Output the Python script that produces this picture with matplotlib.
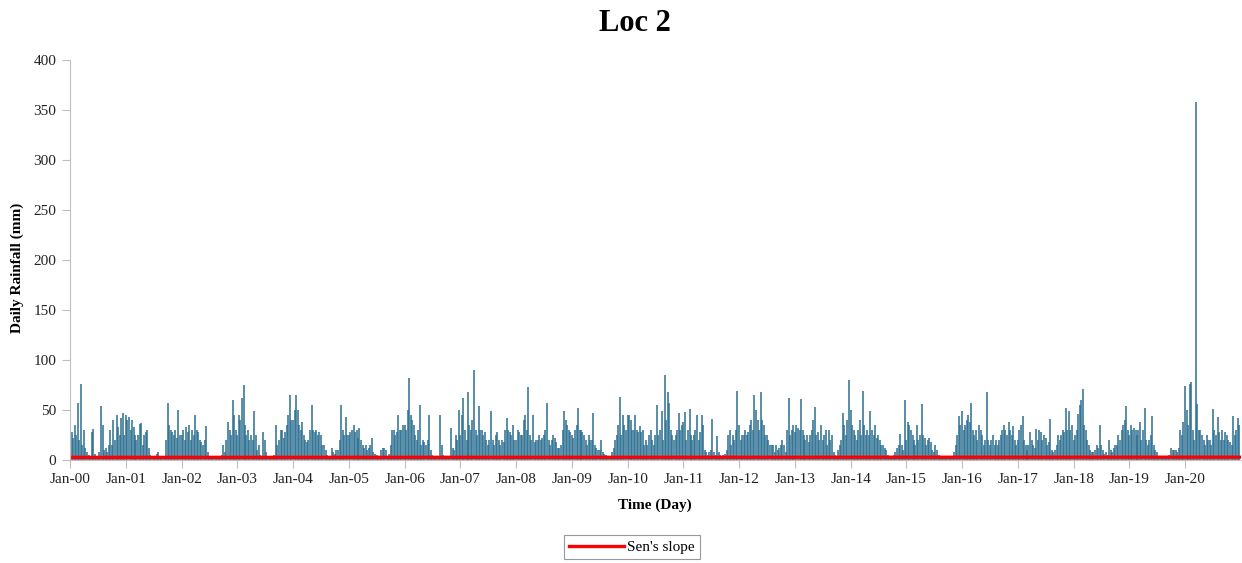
import datetime as dt
import numpy as np
import matplotlib
matplotlib.use("Agg")
import matplotlib.pyplot as plt
import matplotlib.dates as mdates

plt.rcParams['font.family'] = ['Liberation Serif', 'DejaVu Serif']

# rainfall (mm), one value per dekad (1st, 11th, 21st of each month)
rain_2000 = [30, 28, 22, 35, 25, 57, 20, 76, 15, 30, 12, 8,
             5, 3, 28, 31, 6, 4, 3, 8, 54, 35, 10, 12,
             8, 15, 30, 15, 40, 20, 45, 33, 25, 42, 47, 25]
rain_2001 = [45, 40, 43, 30, 40, 33, 25, 20, 25, 36, 37, 15,
             25, 28, 30, 12, 5, 3, 4, 2, 6, 8, 3, 2,
             3, 4, 20, 57, 35, 30, 28, 25, 30, 22, 50, 25]
rain_2002 = [25, 30, 20, 33, 28, 35, 20, 30, 25, 45, 30, 28,
             20, 18, 15, 20, 34, 8, 3, 2, 4, 3, 2, 1,
             2, 3, 5, 15, 8, 20, 38, 30, 25, 60, 45, 30]
rain_2003 = [25, 45, 40, 62, 75, 35, 25, 30, 20, 25, 20, 49,
             25, 10, 15, 5, 4, 28, 20, 8, 3, 2, 3, 2,
             5, 35, 15, 20, 30, 30, 22, 28, 35, 45, 65, 40]
rain_2004 = [40, 50, 65, 50, 35, 30, 38, 25, 20, 18, 20, 30,
             55, 30, 28, 30, 25, 28, 25, 15, 15, 10, 5, 3,
             4, 12, 8, 6, 10, 10, 20, 55, 30, 25, 43, 25]
rain_2005 = [25, 28, 30, 35, 28, 30, 22, 32, 20, 15, 12, 15,
             10, 12, 15, 22, 8, 6, 5, 3, 4, 10, 12, 12,
             10, 4, 6, 15, 30, 30, 25, 28, 45, 30, 30, 35]
rain_2006 = [35, 30, 50, 82, 45, 40, 35, 25, 20, 30, 55, 15,
             20, 18, 15, 20, 45, 10, 5, 3, 2, 3, 2, 45,
             15, 5, 3, 2, 2, 2, 32, 12, 10, 25, 20, 50]
rain_2007 = [25, 45, 62, 30, 20, 68, 35, 30, 40, 90, 30, 25,
             54, 30, 30, 25, 28, 20, 15, 20, 49, 20, 15, 25,
             28, 20, 15, 20, 18, 30, 42, 30, 28, 25, 35, 20]
rain_2008 = [20, 30, 28, 25, 25, 40, 45, 30, 73, 25, 20, 45,
             18, 20, 20, 25, 20, 22, 25, 30, 57, 20, 15, 20,
             25, 22, 18, 12, 12, 15, 30, 49, 40, 35, 30, 28]
rain_2009 = [25, 22, 30, 35, 52, 30, 30, 28, 25, 20, 15, 25,
             20, 20, 47, 15, 12, 10, 10, 20, 8, 6, 5, 3,
             3, 4, 8, 12, 20, 25, 35, 63, 25, 45, 35, 30]
rain_2010 = [45, 45, 40, 30, 30, 45, 30, 28, 34, 28, 30, 15,
             20, 15, 25, 30, 20, 15, 25, 55, 25, 30, 49, 20,
             85, 40, 68, 57, 30, 25, 20, 25, 30, 47, 30, 35]
rain_2011 = [38, 48, 20, 30, 51, 25, 20, 25, 30, 45, 20, 28,
             45, 35, 10, 8, 5, 8, 10, 41, 8, 5, 24, 8,
             5, 4, 5, 6, 10, 25, 30, 15, 25, 20, 30, 69]
rain_2012 = [35, 20, 25, 25, 30, 25, 28, 35, 40, 30, 65, 50,
             40, 30, 68, 40, 35, 25, 25, 20, 15, 15, 15, 8,
             15, 10, 12, 15, 20, 15, 8, 30, 62, 25, 30, 35]
rain_2013 = [28, 35, 32, 30, 61, 30, 25, 20, 25, 18, 25, 30,
             40, 53, 25, 28, 20, 35, 20, 25, 30, 15, 30, 20,
             25, 8, 5, 3, 10, 15, 20, 47, 35, 25, 40, 80]
rain_2014 = [50, 35, 30, 25, 20, 30, 40, 25, 69, 35, 25, 30,
             25, 49, 30, 25, 35, 22, 25, 20, 15, 15, 12, 10,
             5, 4, 3, 4, 5, 8, 12, 15, 26, 15, 10, 60]
rain_2015 = [20, 38, 35, 30, 25, 20, 15, 35, 20, 25, 56, 25,
             22, 15, 20, 22, 18, 10, 8, 15, 10, 5, 3, 2,
             3, 2, 3, 2, 3, 2, 4, 8, 15, 25, 44, 35]
rain_2016 = [49, 30, 35, 40, 45, 38, 57, 30, 25, 30, 20, 35,
             30, 25, 15, 20, 68, 20, 15, 20, 25, 15, 20, 15,
             20, 25, 30, 35, 30, 25, 38, 30, 25, 34, 20, 15]
rain_2017 = [20, 30, 35, 44, 20, 15, 10, 15, 28, 20, 15, 12,
             31, 20, 30, 28, 20, 25, 22, 15, 18, 41, 10, 8,
             10, 15, 25, 20, 25, 30, 28, 52, 30, 49, 30, 35]
rain_2018 = [20, 25, 30, 46, 55, 60, 71, 35, 30, 20, 15, 10,
             8, 8, 10, 15, 12, 35, 15, 10, 6, 8, 5, 20,
             10, 8, 12, 15, 15, 25, 20, 30, 35, 40, 54, 30]
rain_2019 = [25, 35, 30, 32, 30, 25, 30, 38, 20, 30, 52, 20,
             15, 20, 25, 44, 15, 10, 8, 4, 3, 2, 2, 2,
             3, 2, 5, 12, 10, 10, 10, 8, 12, 30, 25, 38]
rain_2020 = [74, 50, 35, 76, 78, 30, 20, 358, 56, 30, 30, 25,
             20, 15, 25, 20, 20, 15, 51, 30, 25, 43, 28, 20,
             30, 20, 28, 25, 20, 18, 15, 44, 25, 30, 42, 35]

years = list(range(2000, 2021))
rain_by_year = [rain_2000, rain_2001, rain_2002, rain_2003, rain_2004, rain_2005,
                rain_2006, rain_2007, rain_2008, rain_2009, rain_2010, rain_2011,
                rain_2012, rain_2013, rain_2014, rain_2015, rain_2016, rain_2017,
                rain_2018, rain_2019, rain_2020]

# Sen's slope trend line (mm) at start and end of record
sen_start = 2.6
sen_end = 2.8

dates = []
values = []
for yr, vals in zip(years, rain_by_year):
    dek = [dt.datetime(yr, m, d) for m in range(1, 13) for d in (1, 11, 21)]
    dates += dek
    values += vals

t0 = dt.datetime(2000, 1, 1)
t1 = dt.datetime(2020, 12, 31)

fig = plt.figure(figsize=(12.42, 5.63), dpi=100)
ax = fig.add_axes([0.0564, 0.183, 0.9426, 0.7104])

ax.vlines(dates, 0, values, color='#2b6f91', lw=1.1)
sen, = ax.plot([t0, t1], [sen_start, sen_end], color='#ff0000', lw=2.4,
               label="Sen's slope")

ax.set_xlim(t0, t1)
ax.set_ylim(0, 400)
ax.set_yticks(np.arange(0, 401, 50))
ax.xaxis.set_major_locator(mdates.YearLocator())
ax.xaxis.set_major_formatter(mdates.DateFormatter('%b-%y'))

for s in ['top', 'right']:
    ax.spines[s].set_visible(False)
ax.spines['left'].set_color('#bfbfbf')
ax.spines['bottom'].set_color('#bfbfbf')
ax.tick_params(axis='both', direction='out', length=6, color='#bfbfbf',
               labelsize=11, labelcolor='#222222')
ax.tick_params(axis='y', pad=4)

fig.text(0.511, 0.958, 'Loc 2', ha='center', va='center', fontsize=22,
         fontweight='bold')
fig.text(0.0137, 0.524, 'Daily Rainfall (mm)', rotation=90, ha='center',
         va='center', fontsize=11, fontweight='bold')
fig.text(0.527, 0.103, 'Time (Day)', ha='center', va='center', fontsize=11,
         fontweight='bold')

leg = fig.legend(handles=[sen], loc='center', bbox_to_anchor=(0.509, 0.028),
                 fontsize=11, frameon=True, fancybox=False, handlelength=3.6,
                 handletextpad=0.2, borderpad=0.35)
leg.get_frame().set_edgecolor('#7f7f7f')
leg.get_frame().set_linewidth(0.8)

fig.savefig('out.png', dpi=100)
